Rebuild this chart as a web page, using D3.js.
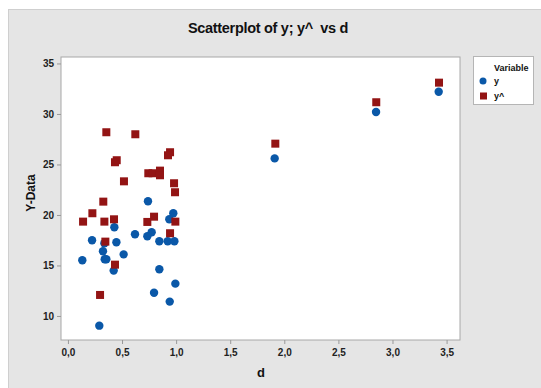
<!DOCTYPE html>
<html>
<head>
<meta charset="utf-8">
<script src="https://cdn.jsdelivr.net/npm/d3@7"></script>
<style>
    body { margin: 0; background: #ffffff; }
    svg { display: block; font-family: "Liberation Sans", Arial, sans-serif; }
    .tick text { font-weight: bold; font-size: 10px; fill: #222; }
    .tick line { stroke: #999; }
    .domain { display: none; }
</style>
</head>
<body>
<div id="vis"></div>
<script>

// Data ------------------------------------------------------------------------

// y (observed) against d
const dY = [0.740, 0.974, 0.937, 0.429, 0.620, 0.774, 0.734, 0.223, 0.337, 0.448,
    0.845, 0.922, 0.984, 0.324, 0.515, 0.133, 0.340, 0.355, 0.423, 0.845,
    0.993, 0.796, 0.941, 0.290, 1.911, 2.848, 3.427];
const yVals = [21.36, 20.17, 19.57, 18.78, 18.09, 18.29, 17.89, 17.50, 17.20, 17.30,
    17.40, 17.40, 17.40, 16.40, 16.10, 15.51, 15.61, 15.61, 14.49, 14.62,
    13.20, 12.30, 11.42, 9.04, 25.60, 30.20, 32.20];

// y^ (fitted) against d
const dHat = [0.355, 0.623, 0.944, 0.925, 0.451, 0.435, 0.743, 0.783, 0.851, 0.851,
    0.518, 0.981, 0.990, 0.327, 0.226, 0.140, 0.337, 0.426, 0.734, 0.796,
    0.993, 0.944, 0.346, 0.435, 0.297, 1.917, 2.850, 3.430];
const yHatVals = [28.19, 27.99, 26.21, 25.91, 25.42, 25.22, 24.13, 24.13, 24.39, 23.93,
    23.33, 23.14, 22.25, 21.32, 20.17, 19.34, 19.34, 19.57, 19.31, 19.83,
    19.34, 18.19, 17.36, 15.08, 12.08, 27.06, 31.16, 33.10];

const xTicks = [0, 0.5, 1, 1.5, 2, 2.5, 3, 3.5];
const yTicks = [10, 15, 20, 25, 30, 35];

const seriesNames = ["y", "y^"];
const seriesColors = ["#0a58a8", "#931414"];

// Chart -----------------------------------------------------------------------

const W = 541, H = 388;
const plot = {left: 61, top: 57, right: 460, bottom: 340};

const svg = d3.select("#vis").append("svg")
    .attr("width", W)
    .attr("height", H);

// Grey panel
svg.append("rect")
    .attr("x", 8.5).attr("y", 9.5)
    .attr("width", W).attr("height", H)
    .attr("fill", "#e5e5e5")
    .attr("stroke", "#cfcfcf");

// Plot area
svg.append("rect")
    .attr("x", plot.left).attr("y", plot.top)
    .attr("width", plot.right - plot.left)
    .attr("height", plot.bottom - plot.top)
    .attr("fill", "#ffffff")
    .attr("stroke", "#a8a8a8");

// Scales
const xscale = d3.scaleLinear()
    .domain([-0.064, 3.624])
    .range([plot.left, plot.right]);

const yscale = d3.scaleLinear()
    .domain([7.62, 35.64])
    .range([plot.bottom, plot.top]);

const fmt = d => d3.format(".1f")(d).replace(".", ",");

svg.append("g")
    .attr("transform", `translate(0,${plot.bottom})`)
    .call(d3.axisBottom(xscale).tickValues(xTicks).tickFormat(fmt)
        .tickSize(4).tickPadding(5));

svg.append("g")
    .attr("transform", `translate(${plot.left},0)`)
    .call(d3.axisLeft(yscale).tickValues(yTicks)
        .tickSize(4).tickPadding(3));

// Titles
svg.append("text")
    .attr("x", 268).attr("y", 33)
    .attr("text-anchor", "middle")
    .attr("xml:space", "preserve")
    .style("font-weight", "bold")
    .style("font-size", "14.5px")
    .style("letter-spacing", "-0.3px")
    .style("fill", "#111")
    .text("Scatterplot of y; y^  vs d");

svg.append("text")
    .attr("x", 261).attr("y", 377)
    .attr("text-anchor", "middle")
    .style("font-weight", "bold")
    .style("font-size", "13px")
    .style("fill", "#111")
    .text("d");

svg.append("text")
    .attr("transform", "translate(35,193) rotate(-90)")
    .attr("text-anchor", "middle")
    .style("font-weight", "bold")
    .style("font-size", "12px")
    .style("fill", "#111")
    .text("Y-Data");

// Points
const ptsY = dY.map((d, i) => ({d, v: yVals[i]}));
const ptsHat = dHat.map((d, i) => ({d, v: yHatVals[i]}));

svg.append("g").selectAll("circle")
    .data(ptsY)
    .enter()
    .append("circle")
    .attr("cx", p => xscale(p.d))
    .attr("cy", p => yscale(p.v))
    .attr("r", 4.2)
    .attr("fill", seriesColors[0]);

svg.append("g").selectAll("rect")
    .data(ptsHat)
    .enter()
    .append("rect")
    .attr("x", p => xscale(p.d) - 4)
    .attr("y", p => yscale(p.v) - 4)
    .attr("width", 8)
    .attr("height", 8)
    .attr("fill", seriesColors[1]);

// Legend
const legend = svg.append("g");
legend.append("rect")
    .attr("x", 473.5).attr("y", 56.5)
    .attr("width", 60).attr("height", 48)
    .attr("fill", "#ffffff")
    .attr("stroke", "#b5b5b5");

legend.append("text")
    .attr("x", 494).attr("y", 71)
    .style("font-weight", "bold")
    .style("font-size", "9px")
    .style("fill", "#111")
    .text("Variable");

seriesNames.forEach((name, i) => {
    const cy = 81 + i * 15;
    if (i === 0) {
        legend.append("circle")
            .attr("cx", 483).attr("cy", cy).attr("r", 3.5)
            .attr("fill", seriesColors[0]);
    } else {
        legend.append("rect")
            .attr("x", 480).attr("y", cy - 3.5)
            .attr("width", 7).attr("height", 7)
            .attr("fill", seriesColors[1]);
    }
    legend.append("text")
        .attr("x", 494).attr("y", cy + 3)
        .style("font-weight", "bold")
        .style("font-size", "9px")
        .style("fill", "#111")
        .text(name);
});

</script>
</body>
</html>
